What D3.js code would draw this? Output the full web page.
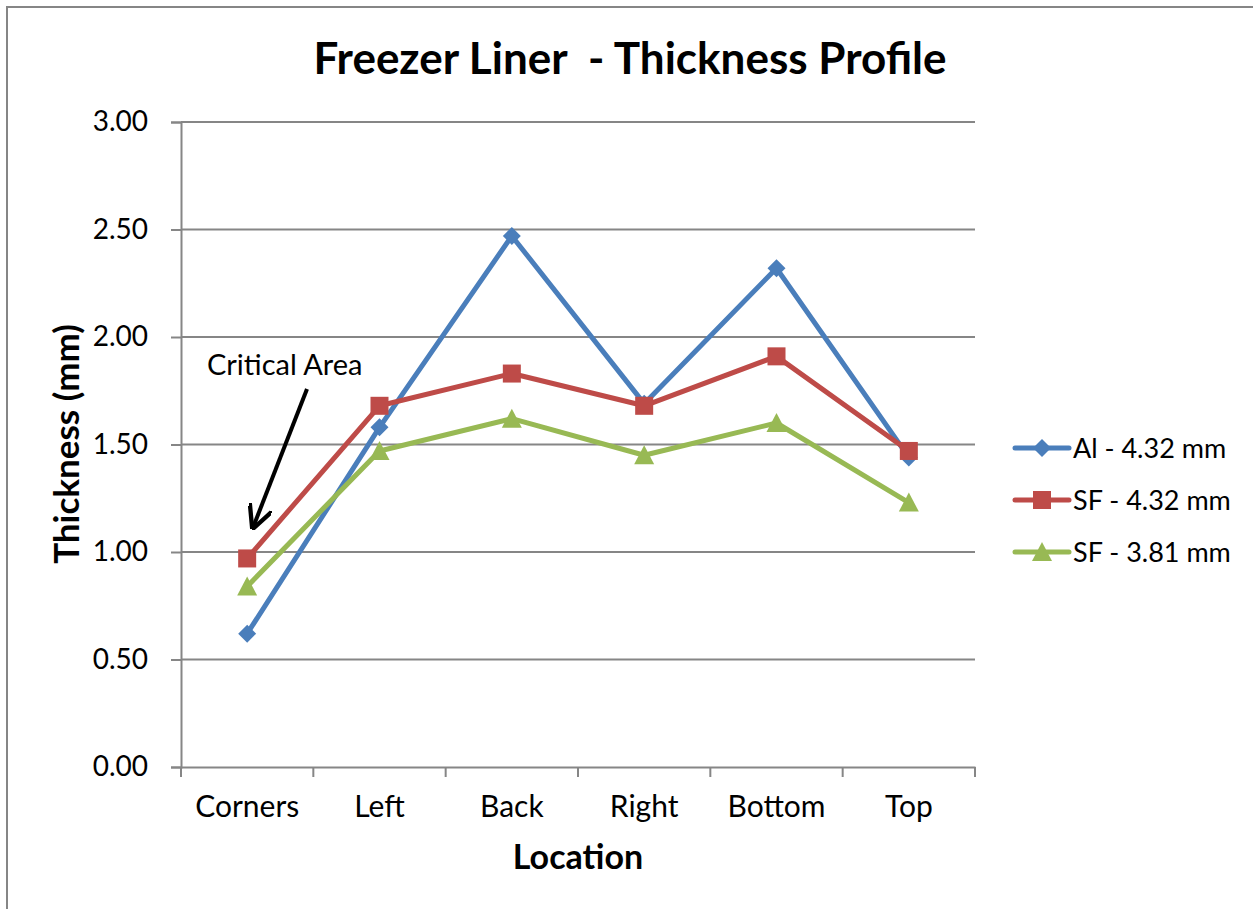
<!DOCTYPE html>
<html>
<head>
<meta charset="utf-8">
<script src="https://cdn.jsdelivr.net/npm/d3@7"></script>
<style>
body{margin:0;background:#fff;}
svg{display:block;font-family:Lato,"Open Sans",sans-serif;}
</style>
</head>
<body>
<div id="chart"></div>
<script>
const categories = ["Corners","Left","Back","Right","Bottom","Top"];
const seriesNames = ["Al - 4.32 mm","SF - 4.32 mm","SF - 3.81 mm"];
const alValues = [0.62,1.58,2.47,1.69,2.32,1.44];
const sf432Values = [0.97,1.68,1.83,1.68,1.91,1.47];
const sf381Values = [0.84,1.47,1.62,1.45,1.60,1.23];
const yTicks = [0,0.5,1,1.5,2,2.5,3];

const W = 1253, H = 909;
const m = {left:181, right:975, top:122, bottom:767};

const series = [
	{name:seriesNames[0], values:alValues, color:"#4a7ebb", shape:"diamond"},
	{name:seriesNames[1], values:sf432Values, color:"#be4b48", shape:"square"},
	{name:seriesNames[2], values:sf381Values, color:"#98b954", shape:"triangle"}
];

const svg = d3.select("#chart").append("svg")
	.attr("width",W).attr("height",H)

// outer chart border
svg.append("rect").attr("x",7).attr("y",7).attr("width",W+20).attr("height",H+20)
	.attr("fill","none").attr("stroke","#868686").attr("stroke-width",2)

const x = d3.scaleBand().domain(categories).range([m.left,m.right])
const y = d3.scaleLinear().domain([0,3]).range([m.bottom,m.top])

// gridlines
svg.append("g").selectAll("line").data(yTicks.slice(1)).join("line")
	.attr("x1",m.left).attr("x2",m.right)
	.attr("y1",d=>y(d)).attr("y2",d=>y(d))
	.attr("stroke","#868686").attr("stroke-width",2)

// y axis
const yAxis = svg.append("g").attr("transform","translate("+m.left+",0)")
	.call(d3.axisLeft(y).tickValues(yTicks).tickFormat(d3.format(".2f")).tickSize(10).tickPadding(23))
yAxis.select(".domain").attr("stroke","#868686").attr("stroke-width",2)
yAxis.selectAll(".tick line").attr("stroke","#868686").attr("stroke-width",2)
yAxis.selectAll(".tick text").attr("font-size",28).attr("fill","#000").attr("font-family","Lato")

// x axis
const xAxis = svg.append("g").attr("transform","translate(0,"+m.bottom+")")
	.call(d3.axisBottom(x).tickSize(0).tickPadding(29))
xAxis.select(".domain").attr("stroke","#868686").attr("stroke-width",2)
xAxis.selectAll(".tick text").attr("font-size",30).attr("fill","#000").attr("font-family","Lato")
const bounds = categories.map(c=>x(c)).concat([m.right])
xAxis.selectAll(".sep").data(bounds).join("line").attr("class","sep")
	.attr("x1",d=>d).attr("x2",d=>d).attr("y1",0).attr("y2",10)
	.attr("stroke","#868686").attr("stroke-width",2)

const cx = c=>x(c)+x.bandwidth()/2

function marker(g,shape,color){
	if(shape=="diamond") g.append("path").attr("d","M0,-9L9,0L0,9L-9,0Z").attr("fill",color)
	else if(shape=="square") g.append("rect").attr("x",-9).attr("y",-9).attr("width",18).attr("height",18).attr("fill",color)
	else g.append("path").attr("d","M0,-10L10,9L-10,9Z").attr("fill",color)
}

const line = d3.line().x((d,i)=>cx(categories[i])).y(d=>y(d))

series.forEach(s=>{
	svg.append("path").datum(s.values).attr("d",line)
		.attr("fill","none").attr("stroke",s.color).attr("stroke-width",5).attr("stroke-linejoin","round")
	s.values.forEach((v,i)=>{
		const g = svg.append("g").attr("transform","translate("+cx(categories[i])+","+y(v)+")")
		marker(g,s.shape,s.color)
	})
})

// title
svg.append("text").attr("x",630).attr("y",74).attr("text-anchor","middle")
	.attr("font-size",44).attr("font-weight","bold").attr("xml:space","preserve")
	.text("Freezer Liner  - Thickness Profile")

// axis titles
svg.append("text").attr("transform","translate(79,444) rotate(-90)").attr("text-anchor","middle")
	.attr("font-size",35).attr("font-weight","bold").text("Thickness (mm)")
svg.append("text").attr("x",(m.left+m.right)/2).attr("y",869).attr("text-anchor","middle")
	.attr("font-size",34).attr("font-weight","bold").text("Location")

// annotation
svg.append("text").attr("x",207).attr("y",375).attr("font-size",29).text("Critical Area")
svg.append("defs").append("marker").attr("id","ah").attr("viewBox","0 0 10 10")
	.attr("refX",8).attr("refY",5).attr("markerWidth",6).attr("markerHeight",6).attr("orient","auto")
	.append("path").attr("d","M0,0L10,5L0,10").attr("fill","none").attr("stroke","#000").attr("stroke-width",1.8)
svg.append("line").attr("x1",307).attr("y1",389).attr("x2",254).attr("y2",525)
	.attr("stroke","#000").attr("stroke-width",4).attr("marker-end","url(#ah)")

// legend
const legend = svg.append("g")
series.forEach((s,i)=>{
	const ly = 448+i*52
	const g = legend.append("g").attr("transform","translate(1015,"+ly+")")
	g.append("line").attr("x1",0).attr("x2",54).attr("stroke",s.color).attr("stroke-width",5).attr("stroke-linecap","round")
	const mg = g.append("g").attr("transform","translate(27,0)")
	marker(mg,s.shape,s.color)
	g.append("text").attr("x",58).attr("y",10).attr("font-size",27).text(s.name)
})
</script>
</body>
</html>
